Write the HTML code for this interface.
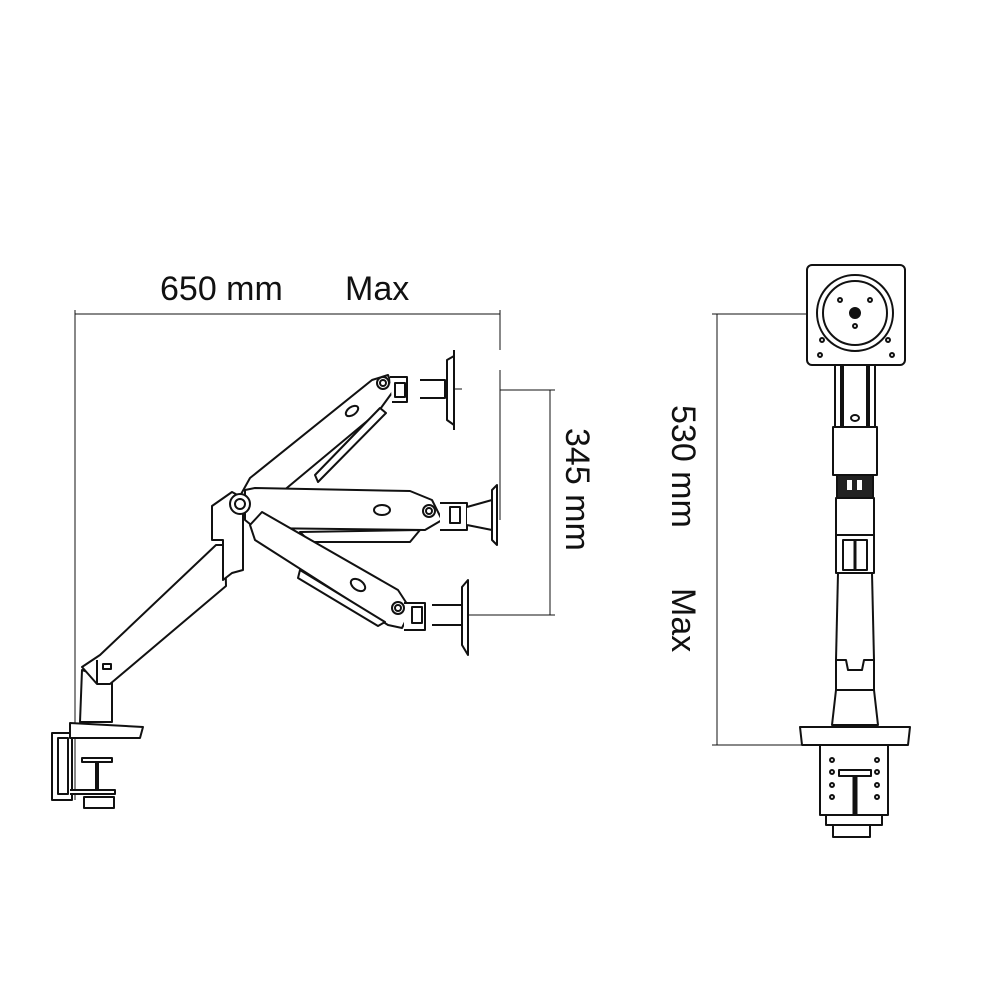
<!DOCTYPE html>
<html><head><style>html,body{margin:0;padding:0;background:#fff}svg{display:block}</style></head>
<body>
<svg width="1000" height="1000" viewBox="0 0 1000 1000" xmlns="http://www.w3.org/2000/svg">
<g font-family="Liberation Sans, Arial, sans-serif" font-size="34" fill="#111">
<text x="160" y="300">650 mm</text>
<text x="345" y="300">Max</text>
<text transform="translate(566,428) rotate(90)">345 mm</text>
<text transform="translate(672,405) rotate(90)">530 mm</text>
<text transform="translate(672,588) rotate(90)">Max</text>
</g>
<g stroke="#111" stroke-width="1" fill="none">
<!-- dimension lines -->
<line x1="75" y1="314" x2="500" y2="314"/>
<line x1="75" y1="310" x2="75" y2="800"/>
<line x1="500" y1="310" x2="500" y2="350"/>
<line x1="500" y1="370" x2="500" y2="520"/>
<line x1="550" y1="390" x2="550" y2="615"/>
<line x1="500" y1="390" x2="555" y2="390"/>
<line x1="448" y1="615" x2="555" y2="615"/>
<line x1="434" y1="389" x2="462" y2="389"/>
<line x1="717" y1="314" x2="717" y2="745"/>
<line x1="712" y1="314" x2="855" y2="314"/>
<line x1="712" y1="745" x2="805" y2="745"/>
</g>
<g stroke="#111" stroke-width="2" fill="#fff" stroke-linejoin="round">
<!-- clamp -->
<rect x="52" y="733" width="20" height="67"/>
<rect x="58" y="738" width="10" height="56"/>
<path d="M70 723 L143 727 L140 738 L70 738 Z"/>
<path d="M82 758 L112 758 L112 762 L82 762 Z"/>
<line x1="97" y1="762" x2="97" y2="790" stroke-width="4"/>
<path d="M70 790 L115 790 L115 794 L70 794"/>
<rect x="84" y="797" width="30" height="11"/>
<!-- base pole -->
<path d="M80 722 L82 670 L112 680 L112 722 Z"/>
<!-- lower arm -->
<path d="M82 667 L100 655 L216 545 L225 545 L226 586 L110 684 L97 684 Z"/>
<line x1="97" y1="660" x2="97" y2="684"/>
<rect x="103" y="664" width="8" height="5"/>
<!-- elbow -->
<path d="M212 506 L232 492 L243 498 L243 570 L232 573 L223 580 L223 540 L212 540 Z"/>
<!-- upper arm (top) -->
<path d="M240 496 L250 478 L372 380 L388 375 L394 390 L378 412 L258 512 L245 518 Z"/>
<path d="M315 475 L380 408 L386 413 L318 482 Z"/>
<ellipse cx="352" cy="411" rx="7" ry="4" transform="rotate(-35 352 411)"/>
<path d="M390 377 L407 377 L407 402 L392 402"/>
<rect x="395" y="383" width="10" height="14" fill="none"/>
<circle cx="434" cy="389" r="8"/>
<circle cx="434" cy="389" r="4"/>
<path d="M420 380 L445 380 L445 398 L420 398"/>
<path d="M447 360 L454 356 L454 425 L447 420 Z"/>
<line x1="454" y1="350" x2="454" y2="430"/>
<circle cx="383" cy="383" r="6"/><circle cx="383" cy="383" r="3"/>
<!-- middle arm -->
<path d="M245 490 L255 488 L410 491 L432 500 L442 520 L425 530 L255 528 L245 520 Z"/>
<path d="M300 532 L420 530 L410 542 L310 542 Z"/>
<ellipse cx="382" cy="510" rx="8" ry="5"/>
<path d="M440 503 L467 503 L467 530 L440 530"/>
<rect x="450" y="507" width="10" height="16" fill="none"/>
<circle cx="480" cy="515" r="8"/><circle cx="480" cy="515" r="4"/>
<path d="M467 507 L492 500 L492 530 L467 525"/>
<path d="M492 490 L497 485 L497 545 L492 540 Z"/>
<circle cx="429" cy="511" r="6"/><circle cx="429" cy="511" r="3"/>
<!-- lower arm swing -->
<path d="M250 525 L262 512 L398 590 L411 610 L402 628 L388 625 L255 540 Z"/>
<path d="M300 570 L385 622 L378 626 L298 578 Z"/>
<ellipse cx="358" cy="585" rx="8" ry="5" transform="rotate(35 358 585)"/>
<path d="M404 603 L425 603 L425 630 L404 630"/>
<rect x="412" y="607" width="10" height="16" fill="none"/>
<circle cx="448" cy="615" r="8"/><circle cx="448" cy="615" r="4"/>
<path d="M432 605 L462 605 L462 625 L432 625"/>
<path d="M462 587 L468 580 L468 655 L462 645 Z"/>
<circle cx="398" cy="608" r="6"/><circle cx="398" cy="608" r="3"/>
<!-- main pivot -->
<circle cx="240" cy="504" r="10"/>
<circle cx="240" cy="504" r="5"/>
<!-- RIGHT VIEW -->
<rect x="807" y="265" width="98" height="100" rx="5"/>
<circle cx="855" cy="313" r="38"/>
<circle cx="855" cy="313" r="32"/>
<circle cx="855" cy="313" r="5" fill="#111"/>
<circle cx="840" cy="300" r="2"/><circle cx="870" cy="300" r="2"/>
<circle cx="855" cy="326" r="2"/>
<circle cx="822" cy="340" r="2"/><circle cx="888" cy="340" r="2"/>
<circle cx="820" cy="355" r="2"/><circle cx="892" cy="355" r="2"/>
<rect x="835" y="365" width="40" height="62"/>
<line x1="842" y1="365" x2="842" y2="427" stroke-width="4"/>
<line x1="868" y1="365" x2="868" y2="427" stroke-width="4"/>
<ellipse cx="855" cy="418" rx="4" ry="3"/>
<rect x="833" y="427" width="44" height="48"/>
<rect x="837" y="475" width="36" height="23" fill="#222"/>
<rect x="847" y="480" width="5" height="10" fill="#fff" stroke="none"/>
<rect x="857" y="480" width="5" height="10" fill="#fff" stroke="none"/>
<rect x="836" y="498" width="38" height="37"/>
<path d="M836 535 L874 535 L874 573 L836 573 Z"/>
<path d="M843 540 L867 540 L867 570 L843 570 Z"/>
<line x1="855" y1="540" x2="855" y2="570" stroke-width="3"/>
<line x1="838" y1="573" x2="836" y2="660"/>
<line x1="872" y1="573" x2="874" y2="660"/>
<path d="M836 660 L846 660 L848 670 L862 670 L864 660 L874 660 L874 690 L836 690 Z"/>
<path d="M836 690 L874 690 L878 725 L832 725 Z"/>
<path d="M800 727 L910 727 L908 745 L802 745 Z"/>
<rect x="820" y="745" width="68" height="70"/>
<circle cx="832" cy="760" r="2"/><circle cx="877" cy="760" r="2"/>
<circle cx="832" cy="772" r="2"/><circle cx="877" cy="772" r="2"/>
<circle cx="832" cy="785" r="2"/><circle cx="877" cy="785" r="2"/>
<circle cx="832" cy="797" r="2"/><circle cx="877" cy="797" r="2"/>
<rect x="839" y="770" width="32" height="6"/>
<line x1="855" y1="776" x2="855" y2="815" stroke-width="5"/>
<rect x="826" y="815" width="56" height="10"/>
<rect x="833" y="825" width="37" height="12"/>
</g>
</svg>
</body></html>
